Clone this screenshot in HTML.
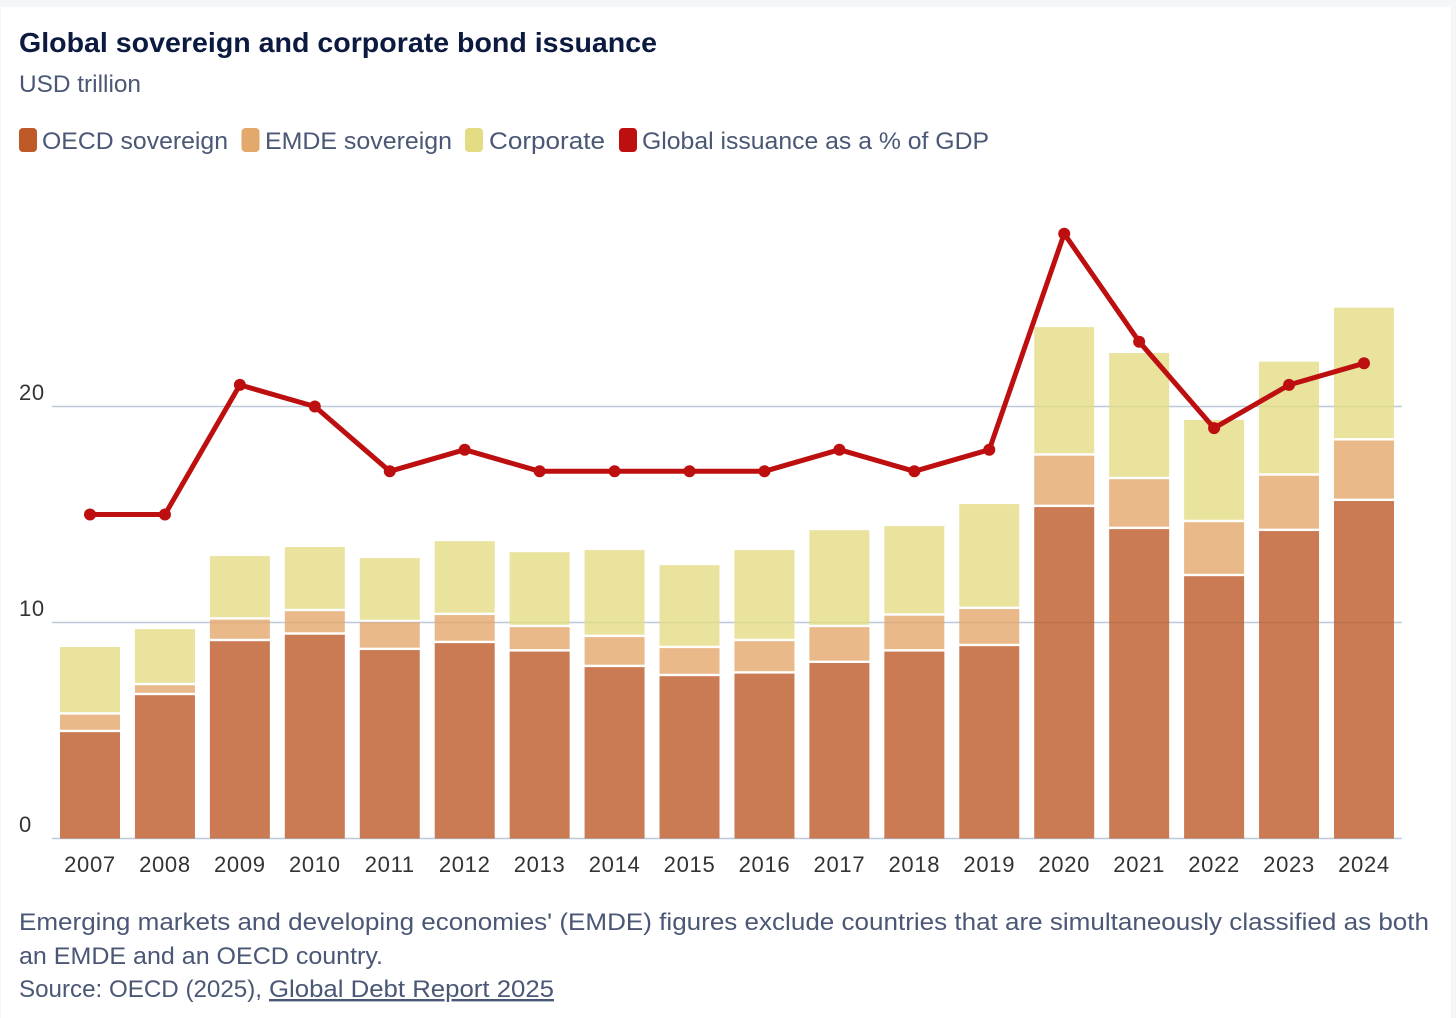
<!DOCTYPE html>
<html lang="en">
<head>
<meta charset="utf-8">
<title>Global sovereign and corporate bond issuance</title>
<style>
  html, body { margin: 0; padding: 0; width: 1456px; height: 1018px; overflow: hidden; background: #f5f6f8; }
  #card { position: absolute; left: 1px; top: 7px; width: 1450px; height: 1011px; background: #fff; }
  svg { position: absolute; left: 0; top: 0; font-family: "Liberation Sans", sans-serif; }
  .muted { fill: #4a5775; font-size: 24px; }
  .tick { fill: #333; font-size: 22px; letter-spacing: 0.7px; }
</style>
</head>
<body>
<div id="card"></div>
<svg id="chart" width="1456" height="1018" viewBox="0 0 1456 1018">
  <text x="19" y="52" font-size="28" font-weight="700" fill="#0c1a40" textLength="638" lengthAdjust="spacingAndGlyphs">Global sovereign and corporate bond issuance</text>
  <text x="19" y="92" class="muted" textLength="122" lengthAdjust="spacingAndGlyphs">USD trillion</text>

  <g>
    <g>
      <rect x="19" y="128" width="18" height="24" rx="4" fill="#bd5a28"/>
      <text x="42" y="149" class="muted" textLength="186" lengthAdjust="spacingAndGlyphs">OECD sovereign</text>
    </g>
    <g>
      <rect x="241.500" y="128" width="18" height="24" rx="4" fill="#e3a86c"/>
      <text x="265" y="149" class="muted" textLength="187" lengthAdjust="spacingAndGlyphs">EMDE sovereign</text>
    </g>
    <g>
      <rect x="465" y="128" width="18" height="24" rx="4" fill="#e3dc85"/>
      <text x="489" y="149" class="muted" textLength="116" lengthAdjust="spacingAndGlyphs">Corporate</text>
    </g>
    <g>
      <rect x="619" y="128" width="18" height="24" rx="4" fill="#bd0f0f"/>
      <text x="642" y="149" class="muted" textLength="347" lengthAdjust="spacingAndGlyphs">Global issuance as a % of GDP</text>
    </g>
  </g>

  <g id="grid"></g>
  <g id="bars"></g>
  <g id="line"></g>
  <g id="yticks"></g>
  <g id="xticks"></g>

  <g>
    <text x="19" y="930" class="muted" textLength="1410" lengthAdjust="spacingAndGlyphs">Emerging markets and developing economies' (EMDE) figures exclude countries that are simultaneously classified as both</text>
    <text x="19" y="964" class="muted" textLength="364" lengthAdjust="spacingAndGlyphs">an EMDE and an OECD country.</text>
    <text x="19" y="997" class="muted" textLength="243" lengthAdjust="spacingAndGlyphs">Source: OECD (2025),</text>
    <text x="269" y="997" class="muted" text-decoration="underline" textLength="285" lengthAdjust="spacingAndGlyphs">Global Debt Report 2025</text>
  </g>
</svg>
<script>
const years = ['2007','2008','2009','2010','2011','2012','2013','2014','2015','2016','2017','2018','2019','2020','2021','2022','2023','2024'];
const oecdSovereign = [4.98,6.69,9.19,9.49,8.78,9.10,8.71,7.99,7.57,7.69,8.18,8.71,8.96,15.40,14.38,12.20,14.29,15.68];
const emdeSovereign = [0.81,0.46,1.00,1.09,1.29,1.30,1.13,1.39,1.30,1.50,1.66,1.66,1.72,2.38,2.31,2.50,2.56,2.80];
const corporate = [3.13,2.60,2.94,2.97,2.97,3.42,3.47,4.03,3.84,4.22,4.49,4.15,4.86,5.95,5.84,4.73,5.28,6.15];
const gdpShare = [15,15,21,20,17,18,17,17,17,17,18,17,18,28,23,19,21,22];
const yTicks = [0,10,20];

const NS = 'http://www.w3.org/2000/svg';
const plotLeft = 52, plotRight = 1402, firstCenter = 90, step = 74.94, barWidth = 60, segmentInset = 1.2;
const baseY = 838.5, pxPerUnit = 21.6;
const xScale = function (i) { return firstCenter + i * step; };
const yScale = function (v) { return baseY - v * pxPerUnit; };

function make(tag, parent, attrs) {
  const el = document.createElementNS(NS, tag);
  Object.keys(attrs).forEach(function (k) { el.setAttribute(k, attrs[k]); });
  parent.appendChild(el);
  return el;
}

const gridG = document.getElementById('grid');
const yG = document.getElementById('yticks');
yTicks.forEach(function (t) {
  const ln = make('line', gridG, { x1: plotLeft, x2: plotRight, y1: yScale(t), y2: yScale(t), stroke: '#bcc9d9', 'stroke-width': 1.6 });
  
  
  const lab = make('text', yG, { x: 19, y: yScale(t) - 6.5, class: 'tick' });
  lab.textContent = t;
  
  
});

const barsG = document.getElementById('bars');
const xG = document.getElementById('xticks');
years.forEach(function (yr, i) {
  const cx = xScale(i);
  let base = 0;
  [[oecdSovereign, '#bd5a28'], [emdeSovereign, '#e3a86c'], [corporate, '#e3dc85']].forEach(function (s) {
    const top = base + s[0][i];
    const yTop = yScale(top) + segmentInset;
    const yBottom = base === 0 ? yScale(0) : yScale(base) - segmentInset;
    const r = make('rect', barsG, {
      x: cx - barWidth / 2, y: yTop, width: barWidth, height: yBottom - yTop,
      fill: s[1], 'fill-opacity': 0.8
    });
    
    
    base = top;
  });
  const lab = make('text', xG, { x: cx, y: 872, class: 'tick', 'text-anchor': 'middle' });
  lab.textContent = yr;
  
  
});

const lineG = document.getElementById('line');
const pts = gdpShare.map(function (v, i) { return xScale(i) + ',' + yScale(v); }).join(' ');
const poly = make('polyline', lineG, { points: pts, fill: 'none', stroke: '#bd0f0f', 'stroke-width': 5, 'stroke-linejoin': 'round', 'stroke-linecap': 'round' });


gdpShare.forEach(function (v, i) {
  const c = make('circle', lineG, { cx: xScale(i), cy: yScale(v), r: 6, fill: '#bd0f0f' });
  
  
});
</script>
</body>
</html>
